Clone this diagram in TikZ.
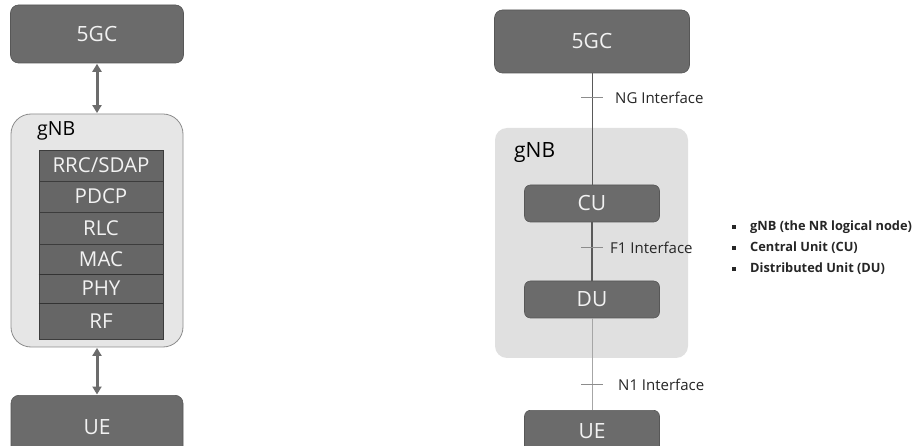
\documentclass[tikz,border=0pt]{standalone}
\usepackage{fontspec}
\setmainfont{Open Sans}
\usetikzlibrary{arrows.meta}
\definecolor{boxgray}{HTML}{6B6B6B}
\definecolor{boxedge}{HTML}{575757}
\definecolor{layergray}{HTML}{666666}
\definecolor{layeredge}{HTML}{3C3C3C}
\definecolor{panelgray}{HTML}{E6E6E6}
\definecolor{paneledge}{HTML}{8C8C8C}
\definecolor{areagray}{HTML}{E0E0E0}
\definecolor{boxtext}{HTML}{F2F2F2}
\tikzset{
  darkbox/.style={draw=boxedge, fill=boxgray, rounded corners=8pt, text=boxtext,
    font=\fontsize{21}{21}\selectfont, inner sep=0pt, line width=0.6pt},
  layer/.style={draw=layeredge, fill=layergray, text=boxtext, minimum width=124pt,
    font=\fontsize{20.5}{20.5}\selectfont, inner sep=0pt, line width=0.8pt},
  biarrow/.style={draw=gray!85!black, line width=3pt,
    {Triangle[length=8pt,width=9pt]}-{Triangle[length=8pt,width=9pt]}, shorten <=0.5pt, shorten >=0.5pt},
  iface/.style={font=\fontsize{15}{15}\selectfont, text=black!85, anchor=west, inner sep=0pt},
  tick/.style={draw=gray!90, line width=0.8pt},
  bulletsq/.style={fill=black!85, minimum size=4pt, inner sep=0pt},
  bullettext/.style={font=\bfseries\fontsize{12.8}{12.8}\selectfont, text=black!85, anchor=west, inner sep=0pt},
}
\begin{document}
\begin{tikzpicture}[x=1pt, y=-1pt]
\useasboundingbox (0,0) rectangle (924,446);
\fill[white] (0,0) rectangle (924,446);

% ---------- protocol stack of a single gNB ----------
\node[darkbox, minimum width=173pt, minimum height=58pt] (core1) at (97,34) {5GC};
\node[draw=paneledge, fill=panelgray, rounded corners=20pt, minimum width=172pt,
      minimum height=233pt, line width=0.8pt] (gnb1) at (97,230.5) {};
\node[font=\fontsize{19.5}{19.5}\selectfont, anchor=west, inner sep=0pt] (gnb1lbl) at (37,131) {gNB};
\node[layer, minimum height=31pt] (rrc)  at (101,165.5) {RRC/SDAP};
\node[layer, minimum height=31pt] (pdcp) at (101,196.5) {PDCP};
\node[layer, minimum height=32pt] (rlc)  at (101,228)   {RLC};
\node[layer, minimum height=30pt] (mac)  at (101,259)   {MAC};
\node[layer, minimum height=29pt] (phy)  at (101,288.5) {PHY};
\node[layer, minimum height=36pt] (rf)   at (101,321)   {RF};
\draw[draw=black!80, line width=1.2pt] (mac.south west) -- (mac.south east);
\draw[draw=black!80, line width=1.2pt] (phy.south west) -- (phy.south east);
\node[darkbox, minimum width=172pt, minimum height=70pt, anchor=north] (ue1) at (97,395) {};
\node[text=boxtext, font=\fontsize{21}{21}\selectfont, inner sep=0pt] (ue1lbl) at (97,427) {UE};
\draw[biarrow] (core1.south) -- (gnb1.north);
\draw[biarrow] (gnb1.south) -- (ue1.north);

% ---------- split gNB: CU and DU ----------
\node[fill=areagray, rounded corners=12pt, minimum width=193pt, minimum height=230pt,
      inner sep=0pt] (gnb2) at (591.5,243) {};
\node[font=\fontsize{21}{21}\selectfont, anchor=west, inner sep=0pt] (gnb2lbl) at (514,153) {gNB};
\node[darkbox, minimum width=195pt, minimum height=63pt] (core2) at (592,41.5) {5GC};
\node[darkbox, rounded corners=6pt, minimum width=135pt, minimum height=37pt] (cu) at (592,203.5) {CU};
\node[darkbox, rounded corners=6pt, minimum width=135pt, minimum height=37pt] (du) at (592,299.5) {DU};
\node[darkbox, rounded corners=6pt, minimum width=135pt, minimum height=60pt, anchor=north] (ue2) at (592,410) {};
\node[text=boxtext, font=\fontsize{21}{21}\selectfont, inner sep=0pt] (ue2lbl) at (592,431) {UE};

\draw[draw=black!65, line width=1pt] (core2.south) -- (cu.north);
\draw[draw=black!65, line width=1.2pt] (cu.south) -- (du.north);
\draw[draw=gray!70, line width=0.8pt] (du.south) -- (ue2.north);

\coordinate (ngL) at (581,97);  \coordinate (ngR) at (603,97);
\coordinate (f1L) at (581,247); \coordinate (f1R) at (603,247);
\coordinate (n1L) at (581,384); \coordinate (n1R) at (603,384);
\draw[tick] (ngL) -- (ngR);
\draw[tick] (f1L) -- (f1R);
\draw[tick] (n1L) -- (n1R);
\node[iface] (nglbl) at (615,98)  {NG Interface};
\node[iface] (f1lbl) at (610,248) {F1 Interface};
\node[iface] (n1lbl) at (618,385) {N1 Interface};

% ---------- legend ----------
\node[bulletsq] (b1) at (734,227) {};
\node[bulletsq] (b2) at (734,248) {};
\node[bulletsq] (b3) at (734,269) {};
\node[bullettext] (t1) at (750,227) {gNB (the NR logical node)};
\node[bullettext] (t2) at (750,248) {Central Unit (CU)};
\node[bullettext] (t3) at (750,269) {Distributed Unit (DU)};
\end{tikzpicture}
\end{document}
